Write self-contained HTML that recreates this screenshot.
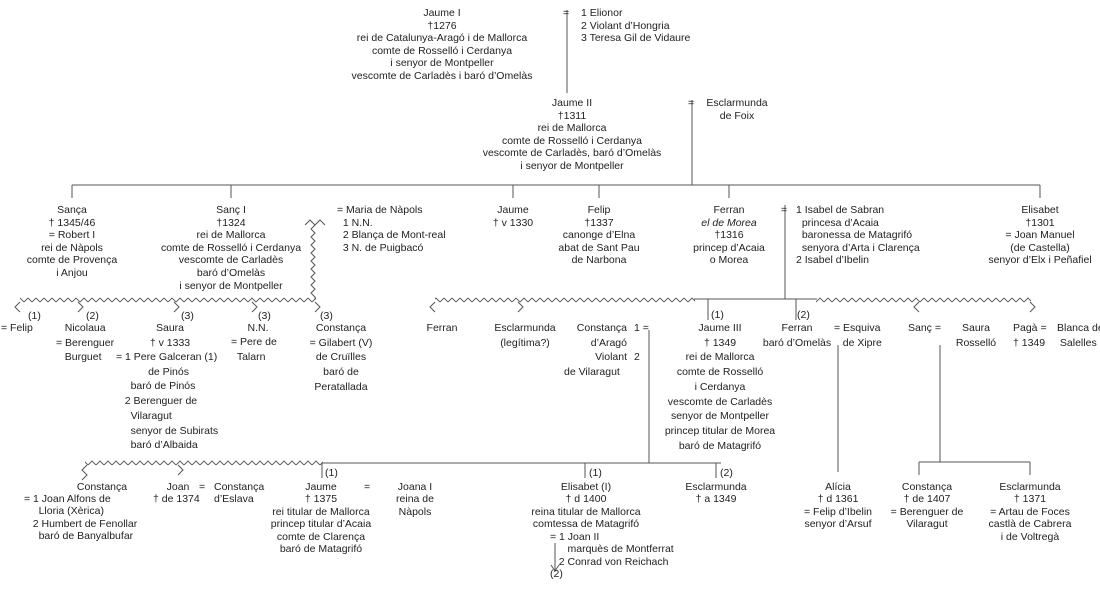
<!DOCTYPE html>
<html><head><meta charset="utf-8"><style>
body{margin:0;background:#fff;}
#w{position:relative;width:1100px;height:598px;overflow:hidden;background:#fff;font-family:"Liberation Sans",Arial,sans-serif;font-size:10.5px;color:#222;}
.t{position:absolute;white-space:nowrap;line-height:12.6px;}
.c{transform:translateX(-50%);text-align:center;}
.r3{line-height:14.7px;}
.b{line-height:12.4px;}
svg{position:absolute;left:0;top:0;}
</style></head><body><div id="w">
<svg width="1100" height="598" viewBox="0 0 1100 598">
<defs>
<pattern id="zh" width="8" height="8" patternUnits="userSpaceOnUse"><path d="M0,6 L4,2 L8,6" fill="none" stroke="#555" stroke-width="0.9"/></pattern>
<pattern id="zh2" x="0" y="459" width="8" height="8" patternUnits="userSpaceOnUse"><path d="M0,6 L4,2 L8,6" fill="none" stroke="#555" stroke-width="0.9"/></pattern>
</defs>
<g stroke="#555" stroke-width="1" fill="none">
<line x1="567" y1="10" x2="567" y2="93"/>
<line x1="692" y1="100" x2="692" y2="185"/>
<line x1="72" y1="185" x2="1040" y2="185"/>
<line x1="72" y1="185" x2="72" y2="198"/>
<line x1="231" y1="185" x2="231" y2="198"/>
<line x1="513" y1="185" x2="513" y2="198"/>
<line x1="599" y1="185" x2="599" y2="198"/>
<line x1="729" y1="185" x2="729" y2="198"/>
<line x1="1040" y1="185" x2="1040" y2="198"/>
<line x1="785" y1="205" x2="785" y2="299"/>
<line x1="694" y1="299" x2="817" y2="299"/>
<line x1="708" y1="299" x2="708" y2="320"/>
<line x1="796" y1="299" x2="796" y2="320"/>
<line x1="649" y1="330" x2="649" y2="463"/>
<line x1="322" y1="463" x2="721" y2="463"/>
<line x1="322" y1="463" x2="322" y2="478"/>
<line x1="585" y1="463" x2="585" y2="478"/>
<line x1="716" y1="463" x2="716" y2="478"/>
<line x1="838" y1="345" x2="838" y2="472"/>
<line x1="940" y1="345" x2="940" y2="462"/>
<line x1="919" y1="462" x2="1030" y2="462"/>
<line x1="919" y1="462" x2="919" y2="475"/>
<line x1="1030" y1="462" x2="1030" y2="475"/>
<line x1="555" y1="543" x2="555" y2="570"/>
<polyline points="551,565 555,571 559,565"/>
<polyline points="305,225 310,220 315,225 320,220 325,225"/>
<polyline points="315,225 311,229 315,233 311,237 315,241 311,245 315,249 311,253 315,257 311,261 315,265 311,269 315,273 311,277 315,281 311,285 315,289 311,293 315,297 315,300"/>
<polyline points="20,302 15,307 20,312"/>
<polyline points="78,302 83,307 78,312"/>
<polyline points="174,302 179,307 174,312"/>
<polyline points="252,302 257,307 252,312"/>
<polyline points="315,302 320,307 315,312"/>
<polyline points="435,302 430,307 435,312"/>
<polyline points="518,302 523,307 518,312"/>
<polyline points="919,302 914,307 919,312"/>
<polyline points="1030,302 1035,307 1030,312"/>
<polyline points="87,465 82,470 87,475 82,480"/>
<polyline points="178,465 183,470 178,475"/>
</g>
<rect x="20" y="296" width="296" height="8" fill="url(#zh)"/>
<rect x="435" y="296" width="260" height="8" fill="url(#zh)"/>
<rect x="816" y="296" width="215" height="8" fill="url(#zh)"/>
<rect x="85" y="459" width="238" height="8" fill="url(#zh2)"/>
</svg>

<div class="t c" style="left:442px;top:7px">Jaume I<br>†1276<br>rei de Catalunya-Aragó i de Mallorca<br>comte de Rosselló i Cerdanya<br>i senyor de Montpeller<br>vescomte de Carladès i baró d’Omelàs</div>
<div class="t" style="left:563px;top:7px">=</div>
<div class="t" style="left:581px;top:7px">1 Elionor<br>2 Violant d’Hongria<br>3 Teresa Gil de Vidaure</div>
<div class="t c" style="left:572px;top:97px">Jaume II<br>†1311<br>rei de Mallorca<br>comte de Rosselló i Cerdanya<br>vescomte de Carladès, baró d’Omelàs<br>i senyor de Montpeller</div>
<div class="t" style="left:688px;top:97px">=</div>
<div class="t c" style="left:737px;top:97px">Esclarmunda<br>de Foix</div>

<div class="t c" style="left:72px;top:204px">Sança<br>† 1345/46<br>= Robert I<br>rei de Nàpols<br>comte de Provença<br>i Anjou</div>
<div class="t c" style="left:231px;top:204px">Sanç I<br>†1324<br>rei de Mallorca<br>comte de Rosselló i Cerdanya<br>vescomte de Carladès<br>baró d’Omelàs<br>i senyor de Montpeller</div>
<div class="t" style="left:337px;top:204px">= Maria de Nàpols<br>&nbsp;&nbsp;1 N.N.<br>&nbsp;&nbsp;2 Blança de Mont-real<br>&nbsp;&nbsp;3 N. de Puigbacó</div>
<div class="t c" style="left:513px;top:204px">Jaume<br>† v 1330</div>
<div class="t c" style="left:599px;top:204px">Felip<br>†1337<br>canonge d’Elna<br>abat de Sant Pau<br>de Narbona</div>
<div class="t c" style="left:729px;top:204px">Ferran<br><i>el de Morea</i><br>†1316<br>princep d’Acaia<br>o Morea</div>
<div class="t" style="left:781px;top:204px">=</div>
<div class="t" style="left:796px;top:204px">1 Isabel de Sabran<br>&nbsp;&nbsp;princesa d’Acaia<br>&nbsp;&nbsp;baronessa de Matagrifó<br>&nbsp;&nbsp;senyora d’Arta i Clarença<br>2 Isabel d’Ibelin</div>
<div class="t c" style="left:1040px;top:204px">Elisabet<br>†1301<br>= Joan Manuel<br>(de Castella)<br>senyor d’Elx i Peñafiel</div>

<div class="t" style="left:28px;top:310px">(1)</div>
<div class="t" style="left:86px;top:310px">(2)</div>
<div class="t" style="left:181px;top:310px">(3)</div>
<div class="t" style="left:258px;top:310px">(3)</div>
<div class="t" style="left:320px;top:310px">(3)</div>
<div class="t" style="left:711px;top:309px">(1)</div>
<div class="t" style="left:797px;top:309px">(2)</div>

<div class="t r3" style="left:1px;top:321px">= Felip</div>
<div class="t r3" style="left:56px;top:321px">&nbsp;&nbsp;&nbsp;Nicolaua<br>= Berenguer<br>&nbsp;&nbsp;&nbsp;Burguet</div>
<div class="t r3 c" style="left:170px;top:321px">Saura<br>† v 1333</div>
<div class="t r3" style="left:116px;top:350px">= 1 Pere Galceran (1)<br>&nbsp;&nbsp;&nbsp;&nbsp;&nbsp;&nbsp;&nbsp;&nbsp;&nbsp;&nbsp;&nbsp;de Pinós<br>&nbsp;&nbsp;&nbsp;&nbsp;&nbsp;baró de Pinós<br>&nbsp;&nbsp;&nbsp;2 Berenguer de<br>&nbsp;&nbsp;&nbsp;&nbsp;&nbsp;Vilaragut<br>&nbsp;&nbsp;&nbsp;&nbsp;&nbsp;senyor de Subirats<br>&nbsp;&nbsp;&nbsp;&nbsp;&nbsp;baró d’Albaida</div>
<div class="t r3 c" style="left:258px;top:321px">N.N.</div>
<div class="t r3" style="left:231px;top:335px">= Pere de<br>&nbsp;&nbsp;Talarn</div>
<div class="t r3 c" style="left:341px;top:321px">Constança<br>= Gilabert (V)<br>de Cruïlles<br>baró de<br>Peratallada</div>

<div class="t r3 c" style="left:442px;top:321px">Ferran</div>
<div class="t r3 c" style="left:525px;top:321px">Esclarmunda<br>(legítima?)</div>
<div class="t r3" style="left:565px;top:321px;text-align:right;width:62px">Constança<br>d’Aragó<br>Violant<br></div>
<div class="t r3" style="left:634px;top:321px">1 =<br><br>2</div>
<div class="t r3" style="left:564px;top:365px">de Vilaragut</div>
<div class="t r3 c" style="left:720px;top:321px">Jaume III<br>† 1349<br>rei de Mallorca<br>comte de Rosselló<br>i Cerdanya<br>vescomte de Carladès<br>senyor de Montpeller<br>princep titular de Morea<br>baró de Matagrifó</div>
<div class="t r3 c" style="left:797px;top:321px">Ferran<br>baró d’Omelàs</div>
<div class="t r3" style="left:834px;top:321px">= Esquiva<br>&nbsp;&nbsp;&nbsp;de Xipre</div>
<div class="t r3" style="left:908px;top:321px">Sanç =</div>
<div class="t r3 c" style="left:976px;top:321px">Saura<br>Rosselló</div>
<div class="t r3" style="left:1013px;top:321px">Pagà =<br>† 1349</div>
<div class="t r3" style="left:1057px;top:321px">Blanca de<br>&nbsp;Salelles</div>

<div class="t" style="left:325px;top:467px">(1)</div>
<div class="t" style="left:589px;top:467px">(1)</div>
<div class="t" style="left:720px;top:467px">(2)</div>
<div class="t b c" style="left:102px;top:481px">Constança</div>
<div class="t b" style="left:24px;top:493px">= 1 Joan Alfons de<br>&nbsp;&nbsp;&nbsp;&nbsp;&nbsp;Lloria (Xèrica)<br>&nbsp;&nbsp;&nbsp;2 Humbert de Fenollar<br>&nbsp;&nbsp;&nbsp;&nbsp;&nbsp;baró de Banyalbufar</div>
<div class="t b c" style="left:178px;top:481px">Joan</div>
<div class="t b" style="left:153px;top:493px">† de 1374</div>
<div class="t b" style="left:199px;top:481px">=</div>
<div class="t b" style="left:214px;top:481px">Constança<br>d’Eslava</div>
<div class="t b c" style="left:321px;top:481px">Jaume<br>† 1375<br>rei titular de Mallorca<br>princep titular d’Acaia<br>comte de Clarença<br>baró de Matagrifó</div>
<div class="t b" style="left:364px;top:481px">=</div>
<div class="t b c" style="left:415px;top:481px">Joana I<br>reina de<br>Nàpols</div>
<div class="t b c" style="left:586px;top:481px">Elisabet (I)<br>† d 1400<br>reina titular de Mallorca<br>comtessa de Matagrifó</div>
<div class="t b" style="left:550px;top:531px">= 1 Joan II<br>&nbsp;&nbsp;&nbsp;&nbsp;&nbsp;&nbsp;marquès de Montferrat<br>&nbsp;&nbsp;&nbsp;2 Conrad von Reichach<br>(2)</div>
<div class="t b c" style="left:716px;top:481px">Esclarmunda<br>† a 1349</div>
<div class="t b c" style="left:838px;top:481px">Alícia<br>† d 1361<br>= Felip d’Ibelin<br>senyor d’Arsuf</div>
<div class="t b c" style="left:927px;top:481px">Constança<br>† de 1407<br>= Berenguer de<br>Vilaragut</div>
<div class="t b c" style="left:1030px;top:481px">Esclarmunda<br>† 1371<br>= Artau de Foces<br>castlà de Cabrera<br>i de Voltregà</div>
</div></body></html>
